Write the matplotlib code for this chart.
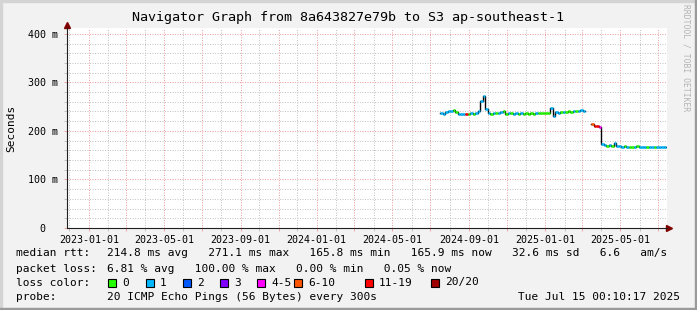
import numpy as np
import pandas as pd
import matplotlib
matplotlib.use("Agg")
import matplotlib.pyplot as plt
import matplotlib.dates as mdates
from matplotlib.patches import Rectangle
from matplotlib.ticker import MultipleLocator, FixedLocator

# canvas size (px)
W, H = 697, 310
MONO = "DejaVu Sans Mono"

# graph window
t_start = pd.Timestamp("2022-11-27 00:10:17")
t_end = pd.Timestamp("2025-07-15 00:10:17")
step_days = 4

# median rtt (ms) and lost pings out of 20, one value per step
seg1_start = "2024-07-17"
seg1_rtt = [236, 235, 238, 240, 241, 243, 238, 235, 234, 235,
            234, 235, 236, 235, 237, 242, 262, 271.1, 245, 236,
            235, 236, 237, 236, 239, 241, 235, 236, 236, 235,
            236, 235, 236, 234, 236, 235, 236, 235, 236, 236,
            237, 236, 236, 237, 248, 231, 238, 237, 238, 238,
            239, 240, 239, 240, 241, 242, 243, 242]
seg1_loss = [1, 1, 1, 1, 1, 0, 0, 1, 1, 1,
             12, 0, 1, 0, 1, 1, 1, 1, 1, 1,
             0, 1, 0, 1, 1, 0, 0, 1, 0, 1,
             1, 0, 1, 0, 0, 0, 0, 0, 1, 0,
             0, 0, 0, 0, 1, 1, 1, 1, 0, 1,
             0, 0, 0, 1, 0, 1, 1, 1]

seg2_start = "2025-03-16"
seg2_rtt = [214, 211, 211, 208, 173, 171, 169, 170, 169, 176,
            168, 168, 167, 168, 167, 167, 167, 167, 168, 167,
            167, 166, 167, 167, 166, 166, 166, 166, 166, 166]
seg2_loss = [7, 12, 12, 4, 1, 1, 0, 1, 0, 1,
             1, 1, 1, 0, 1, 0, 0, 1, 0, 1,
             1, 1, 0, 1, 1, 0, 1, 1, 1, 1]

loss_labels = ["0", "1", "2", "3", "4-5", "6-10", "11-19", "20/20"]
loss_upper = [0, 1, 2, 3, 5, 10, 19, 20]
loss_colors = ["#26ff00", "#00b8ff", "#0059ff", "#7e00ff",
               "#ff00ff", "#ff5500", "#ff0000", "#a10000"]

y_max = 412
y_ticks = [0, 100, 200, 300, 400]
y_tick_labels = ["0  ", "100 m", "200 m", "300 m", "400 m"]

title = "Navigator Graph from 8a643827e79b to S3 ap-southeast-1"
rtt_line = "214.8 ms avg   271.1 ms max   165.8 ms min   165.9 ms now   32.6 ms sd   6.6   am/s"
loss_line = "6.81 % avg   100.00 % max   0.00 % min   0.05 % now"
probe_line = "20 ICMP Echo Pings (56 Bytes) every 300s"
stamp = "Tue Jul 15 00:10:17 2025"


def fx(px):
    return px / W


def fy(py):
    return 1 - py / H


def loss_color(n):
    for up, c in zip(loss_upper, loss_colors):
        if n <= up:
            return c
    return loss_colors[-1]


fig = plt.figure(figsize=(W / 100, H / 100), dpi=100, facecolor="#f2f2f2")

# 3d-ish frame like rrdtool
fig.patches.append(Rectangle((0, 1 - 2 / H), 1, 2 / H, transform=fig.transFigure, color="#d4d4d4", zorder=0))
fig.patches.append(Rectangle((0, 0), 2 / W, 1, transform=fig.transFigure, color="#d4d4d4", zorder=0))
fig.patches.append(Rectangle((0, 0), 1, 2 / H, transform=fig.transFigure, color="#9a9a9a", zorder=0))
fig.patches.append(Rectangle((1 - 2 / W, 0), 2 / W, 1, transform=fig.transFigure, color="#9a9a9a", zorder=0))

ax = fig.add_axes([fx(67), fy(228), 600 / W, 200 / H])
ax.set_facecolor("white")
ax.set_xlim(mdates.date2num(t_start), mdates.date2num(t_end))
ax.set_ylim(0, y_max)

# grid
ax.xaxis.set_major_locator(mdates.MonthLocator(bymonth=[1, 3, 5, 7, 9, 11]))
ax.xaxis.set_minor_locator(mdates.MonthLocator())
ax.xaxis.set_major_formatter(
    plt.FuncFormatter(lambda v, p: mdates.num2date(v).strftime("%Y-%m-%d")
                      if mdates.num2date(v).month in (1, 5, 9) else ""))
ax.yaxis.set_major_locator(FixedLocator(y_ticks))
ax.yaxis.set_minor_locator(MultipleLocator(20))
ax.set_yticklabels(y_tick_labels)

grid_ls = (0, (1, 1.5))
ax.grid(which="major", color="#eea2a2", linestyle=grid_ls, lw=0.72)
ax.grid(which="minor", color="#c4c4c4", linestyle=grid_ls, lw=0.72)
ax.set_axisbelow(True)

ax.tick_params(which="major", length=2.2, width=0.72, color="#f0a7a7",
               labelsize=7.2, labelfontfamily=MONO)
ax.tick_params(which="minor", length=2.2, width=0.72, color="#c4c4c4")
ax.tick_params(axis="x", which="major", pad=2.5)
ax.tick_params(axis="y", which="major", pad=4)

for s in ("top", "right"):
    ax.spines[s].set_visible(False)
for s in ("left", "bottom"):
    ax.spines[s].set_color("#202020")
    ax.spines[s].set_linewidth(0.8)

# axis arrows
ax.plot([0, 0], [1, 1.02], color="#202020", lw=0.8, transform=ax.transAxes, clip_on=False)
ax.plot([1, 1.004], [0, 0], color="#202020", lw=0.8, transform=ax.transAxes, clip_on=False)
ax.plot([0], [1.0175], marker="^", ms=4.5, color="#800000", transform=ax.transAxes, clip_on=False)
ax.plot([1.0028], [0], marker=">", ms=4.5, color="#800000", transform=ax.transAxes, clip_on=False)

# median rtt colored by loss
step = pd.Timedelta(days=step_days)
for start, rtt, loss in ((seg1_start, seg1_rtt, seg1_loss), (seg2_start, seg2_rtt, seg2_loss)):
    t = pd.date_range(start, periods=len(rtt), freq=f"{step_days}D")
    x0 = mdates.date2num(t)
    x1 = mdates.date2num(t + step)
    xs = np.append(x0, x1[-1])
    ys = np.append(rtt, rtt[-1])
    ax.step(xs, ys, where="post", color="black", lw=1.0, zorder=3)
    ax.hlines(rtt, x0, x1, colors=[loss_color(n) for n in loss], lw=1.8, zorder=4)

# texts
fig.text(fx(348), fy(18), title, ha="center", va="center", fontsize=9.6, family=MONO)
fig.text(fx(11), fy(128), "Seconds", rotation=90, ha="center", va="center", fontsize=8, family=MONO)
fig.text(fx(686), fy(4), "RRDTOOL / TOBI OETIKER", rotation=270, ha="center", va="top",
         fontsize=5.8, family=MONO, color="#b4b4b4")

rows = [253.5, 268.5, 282.5, 296.5]
fig.text(fx(16), fy(rows[0]), "median rtt:", va="center", fontsize=8, family=MONO)
fig.text(fx(107), fy(rows[0]), rtt_line, va="center", fontsize=8, family=MONO)
fig.text(fx(16), fy(rows[1]), "packet loss:", va="center", fontsize=8, family=MONO)
fig.text(fx(107), fy(rows[1]), loss_line, va="center", fontsize=8, family=MONO)
fig.text(fx(16), fy(rows[2]), "loss color:", va="center", fontsize=8, family=MONO)
fig.text(fx(16), fy(rows[3]), "probe:", va="center", fontsize=8, family=MONO)
fig.text(fx(107), fy(rows[3]), probe_line, va="center", fontsize=8, family=MONO)
fig.text(fx(680), fy(rows[3]), stamp, ha="right", va="center", fontsize=8, family=MONO)

box_x = [108, 146, 183, 220, 257, 294, 365, 431]
for bx, lab, col in zip(box_x, loss_labels, loss_colors):
    fig.patches.append(Rectangle((fx(bx), fy(rows[2] + 4)), 8 / W, 8 / H, transform=fig.transFigure,
                                 facecolor=col, edgecolor="black", lw=0.8))
    fig.text(fx(bx + 14), fy(rows[2]), lab, va="center", fontsize=8, family=MONO)

fig.savefig("out.png", dpi=100, facecolor=fig.get_facecolor())
